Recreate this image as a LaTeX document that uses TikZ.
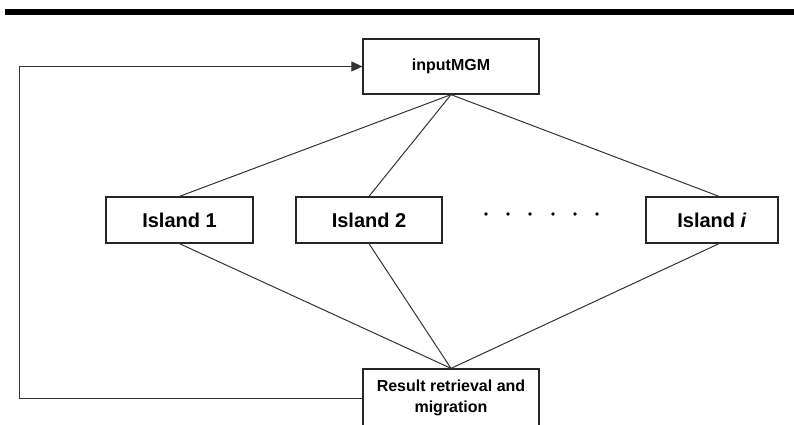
\documentclass[tikz,border=0pt]{standalone}
\usepackage{fontspec}
\setmainfont{Liberation Sans}
\usetikzlibrary{arrows.meta,calc}
\begin{document}
\begin{tikzpicture}[x=1pt,y=-1pt,
  box/.style={draw=black!85,line width=1.3pt,fill=white,inner sep=0pt,align=center,font=\bfseries},
  link/.style={draw=black!80,line width=1pt},
  dotmark/.style={circle,fill=black,inner sep=0pt,minimum size=3.6pt}]
\useasboundingbox (0,0) rectangle (794,425);
\fill[black] (5,9) rectangle (794,15);
\node[box,minimum width=176,minimum height=55,font=\bfseries\fontsize{16}{19}\selectfont] (in) at (451,66.5) {inputMGM};
\node[box,minimum width=147,minimum height=46,font=\bfseries\fontsize{20}{24}\selectfont] (isl1) at (179.5,220) {Island 1};
\node[box,minimum width=146,minimum height=46,font=\bfseries\fontsize{20}{24}\selectfont] (isl2) at (369,220) {Island 2};
\node[box,minimum width=132,minimum height=46,font=\bfseries\fontsize{20}{24}\selectfont] (isli) at (712,220) {Island \textit{i}};
\node[box,minimum width=176,minimum height=58,font=\bfseries\fontsize{16}{21}\selectfont] (res) at (451,398) {Result retrieval and\\migration};
\foreach \k/\xx in {1/486,2/508,3/530,4/553,5/575,6/597}
  \node[dotmark] (d\k) at (\xx,214) {};
\coordinate (fb) at (19,66.5);
\coordinate (ti) at ($(isli.north)+(7,0)$);
\coordinate (bi) at ($(isli.south)+(7,0)$);
\draw[link] (in.south) -- (isl1.north);
\draw[link] (in.south) -- (isl2.north);
\draw[link] (in.south) -- (ti);
\draw[link] (isl1.south) -- (res.north);
\draw[link] (isl2.south) -- (res.north);
\draw[link] (bi) -- (res.north);
\draw[link,-{Triangle[length=11pt,width=10pt]}] (res.west) -- (res.west -| fb) -- (fb) -- (in.west);
\end{tikzpicture}
\end{document}
